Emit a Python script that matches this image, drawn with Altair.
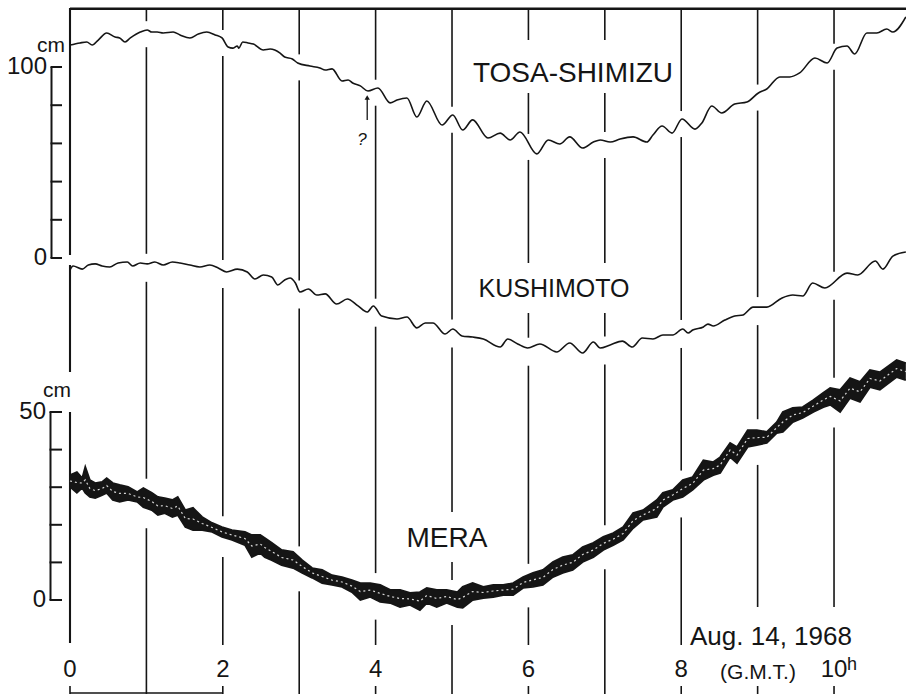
import altair as alt
import numpy as np
import pandas as pd

# ---------------- data (hours GMT, water level in cm) ----------------
tosa_hours = [0.00, 0.13, 0.22, 0.29, 0.37, 0.48, 0.59, 0.65, 0.72, 0.79, 0.92, 1.01, 1.07, 1.14,
              1.22, 1.35, 1.44, 1.57, 1.68, 1.79, 1.90, 1.99, 2.07, 2.13, 2.19, 2.21, 2.26, 2.33,
              2.40, 2.53, 2.62, 2.68, 2.75, 2.81, 2.91, 2.98, 3.14, 3.27, 3.34, 3.43, 3.56, 3.64,
              3.70, 3.80, 3.90, 4.03, 4.19, 4.28, 4.41, 4.54, 4.67, 4.87, 5.01, 5.14, 5.27, 5.47,
              5.63, 5.76, 5.89, 6.11, 6.26, 6.41, 6.54, 6.71, 6.85, 6.94, 7.07, 7.20, 7.37, 7.55,
              7.63, 7.75, 7.88, 8.01, 8.18, 8.27, 8.40, 8.53, 8.70, 8.86, 9.01, 9.12, 9.29, 9.42,
              9.55, 9.75, 9.91, 10.04, 10.17, 10.27, 10.43, 10.56, 10.69, 10.77, 10.94]
tosa_cm = [111.5, 112.6, 113.1, 111.5, 114.1, 117.8, 115.7, 115.2, 113.1, 115.2, 118.3, 119.4, 118.3, 118.3,
           117.8, 118.3, 116.8, 115.2, 117.3, 118.3, 116.8, 115.2, 110.5, 109.9, 111.0, 109.9, 113.1, 112.6,
           112.0, 108.9, 109.4, 108.9, 107.3, 105.2, 104.2, 102.1, 100.5, 99.5, 98.4, 99.0, 92.7, 93.2,
           91.6, 90.1, 87.4, 89.0, 81.2, 82.7, 83.8, 73.8, 82.2, 69.6, 74.9, 67.0, 72.3, 62.8,
           65.4, 61.8, 66.0, 54.5, 61.8, 59.7, 63.4, 57.6, 60.7, 61.8, 60.7, 62.3, 63.4, 60.7,
           64.4, 69.1, 65.4, 72.8, 67.5, 70.7, 79.6, 75.9, 80.6, 81.7, 86.4, 88.5, 94.8, 94.8,
           96.9, 104.7, 102.1, 109.9, 111.0, 106.8, 117.8, 117.8, 119.9, 118.3, 126.2]

kushi_hours = [0.00, 0.04, 0.16, 0.24, 0.33, 0.42, 0.52, 0.63, 0.75, 0.82, 0.92, 1.01, 1.11, 1.22,
               1.34, 1.44, 1.57, 1.70, 1.83, 1.94, 2.05, 2.19, 2.32, 2.42, 2.53, 2.64, 2.72, 2.81,
               2.88, 2.95, 3.01, 3.12, 3.23, 3.34, 3.49, 3.63, 3.77, 3.89, 3.97, 4.08, 4.28, 4.41,
               4.54, 4.65, 4.75, 4.91, 5.01, 5.13, 5.27, 5.41, 5.63, 5.73, 5.86, 5.99, 6.15, 6.37,
               6.54, 6.71, 6.85, 6.94, 7.07, 7.23, 7.36, 7.49, 7.63, 7.76, 7.89, 8.02, 8.09, 8.15,
               8.29, 8.35, 8.42, 8.57, 8.70, 8.81, 8.94, 9.12, 9.32, 9.46, 9.59, 9.72, 9.88, 10.17,
               10.31, 10.54, 10.64, 10.77, 10.94]
kushi_cm = [-6.3, -4.2, -5.8, -3.7, -3.1, -4.2, -4.7, -2.6, -2.1, -4.2, -2.6, -3.1, -2.1, -3.7,
            -2.1, -2.6, -3.7, -4.7, -3.7, -5.2, -7.3, -5.8, -7.3, -11.0, -8.9, -9.9, -14.1, -11.5,
            -10.5, -13.1, -17.8, -16.2, -19.4, -18.8, -24.1, -21.5, -25.1, -28.3, -25.1, -30.4, -31.9, -30.9,
            -36.6, -34.0, -34.0, -39.8, -37.2, -40.8, -41.4, -42.4, -46.6, -42.4, -45.0, -47.1, -45.0, -49.2,
            -44.5, -49.7, -44.0, -47.1, -45.5, -43.5, -46.6, -41.9, -42.4, -40.3, -40.3, -37.2, -39.3, -37.7,
            -36.1, -34.6, -35.6, -32.5, -30.4, -29.8, -25.7, -25.7, -20.9, -19.4, -19.9, -13.1, -15.7, -7.9,
            -8.9, -1.6, -5.8, 1.0, 3.1]

mera_hours = [0.00, 0.09, 0.16, 0.20, 0.26, 0.33, 0.42, 0.48, 0.56, 0.65, 0.76, 0.88, 0.96, 1.07,
              1.15, 1.24, 1.34, 1.41, 1.51, 1.61, 1.73, 1.86, 1.99, 2.12, 2.29, 2.38, 2.49, 2.55,
              2.64, 2.77, 2.92, 3.04, 3.17, 3.30, 3.43, 3.56, 3.69, 3.80, 3.93, 4.06, 4.19, 4.32,
              4.45, 4.58, 4.67, 4.80, 4.93, 5.07, 5.14, 5.27, 5.41, 5.54, 5.67, 5.80, 5.93, 6.06,
              6.19, 6.32, 6.45, 6.58, 6.71, 6.85, 6.98, 7.11, 7.24, 7.37, 7.50, 7.68, 7.76, 7.89,
              8.02, 8.15, 8.29, 8.42, 8.51, 8.64, 8.73, 8.87, 8.99, 9.12, 9.25, 9.33, 9.46, 9.59,
              9.73, 9.86, 9.95, 10.08, 10.21, 10.34, 10.47, 10.60, 10.82, 10.94]
mera_upper = [33.2, 34.0, 32.4, 35.4, 31.9, 31.1, 31.4, 32.4, 31.1, 30.6, 30.1, 28.7, 29.8, 28.5,
              27.4, 27.1, 26.6, 27.4, 23.9, 24.5, 22.1, 20.5, 19.4, 18.6, 18.1, 17.3, 17.3, 16.5,
              15.2, 13.3, 12.8, 10.6, 8.5, 8.0, 6.6, 6.1, 5.3, 4.5, 4.5, 4.0, 2.7, 2.7,
              1.9, 2.1, 3.2, 2.7, 2.7, 2.1, 3.5, 4.5, 3.5, 4.0, 4.0, 4.5, 6.1, 7.2,
              8.0, 10.1, 11.4, 12.0, 14.1, 15.2, 16.8, 17.8, 19.4, 23.1, 23.9, 26.6, 28.5, 29.3,
              31.9, 32.7, 37.2, 36.7, 38.0, 41.8, 40.7, 45.2, 45.2, 44.7, 47.3, 50.0, 51.1, 51.3,
              53.2, 55.1, 56.4, 55.9, 59.0, 58.0, 61.2, 60.6, 63.8, 63.0]
mera_lower = [30.1, 28.5, 29.8, 28.5, 27.4, 27.1, 27.9, 28.5, 26.6, 26.1, 26.6, 26.1, 24.7, 23.9,
              22.6, 23.1, 22.1, 22.6, 19.4, 18.6, 18.6, 18.1, 16.8, 16.0, 14.6, 11.4, 12.5, 11.4,
              10.6, 9.3, 8.5, 7.2, 5.9, 4.5, 4.0, 3.5, 2.1, 0.0, 0.8, -0.5, -0.8, -1.9,
              -1.3, -2.7, -0.8, -1.9, -0.8, -1.9, -2.1, 0.0, 0.5, 0.8, 1.3, 1.3, 3.2, 3.5,
              4.0, 6.1, 7.2, 8.0, 10.1, 11.4, 13.3, 14.6, 16.0, 19.1, 21.3, 22.1, 24.7, 26.6,
              27.4, 29.3, 31.9, 33.2, 33.8, 38.0, 36.4, 40.7, 41.2, 41.8, 44.4, 44.7, 47.3, 48.4,
              50.0, 51.3, 51.9, 50.0, 53.7, 52.7, 56.6, 55.9, 59.3, 58.5]

station_names = ["TOSA-SHIMIZU", "KUSHIMOTO", "MERA"]
tosa_ticks = [0, 20, 40, 60, 80, 100]
tosa_tick_labels = ["0", "100"]
tosa_label_values = [0, 100]
mera_ticks = [0, 10, 20, 30, 40, 50]
mera_tick_labels = ["0", "50"]
mera_label_values = [0, 50]
hour_lines = list(range(11))
bottom_tick_hours = [0, 2, 4, 6, 8, 9, 10]
hour_label_values = [0, 2, 4, 6, 8, 10]
hour_labels = ["0", "2", "4", "6", "8", "10"]
date_text = "Aug. 14, 1968"
zone_text = "(G.M.T.)"
arrow_hour = [3.89]
arrow_from = [72.3]
arrow_to = [84.0]

# ---------------- layout / style ----------------
W, H = 836, 686
INK = "#151515"
FONT = "Liberation Sans"
XMAX = 10.942
TOP_DOM = [-228.27, 130.89]
MERA_DOM = [-25.0, 157.45]
xs = alt.Scale(domain=[0, XMAX], nice=False, zero=False)
ys_top = alt.Scale(domain=TOP_DOM, nice=False, zero=False)
ys_mera = alt.Scale(domain=MERA_DOM, nice=False, zero=False)


def px_top(v):
    return (TOP_DOM[1] - v) / (TOP_DOM[1] - TOP_DOM[0]) * H


def top_from_px(p):
    return TOP_DOM[1] - p * (TOP_DOM[1] - TOP_DOM[0]) / H


def px_mera(v):
    return (MERA_DOM[1] - v) / (MERA_DOM[1] - MERA_DOM[0]) * H


PX_PER_HOUR = W / XMAX
line_end = {0: 635, 1: H, 2: 637, 3: H, 4: 637, 5: H, 6: 637, 7: H, 8: 637, 9: 599, 10: 599}
label_boxes = [(400, 605, 32, 85), (402, 566, 255, 305), (334, 420, 504, 554)]
extra_gaps = {0: [(247, 257), (364, 404)]}

# hour-line segments (long format: two rows per segment), interrupted where
# the records and the station names cross them
rows_seg, rows_h, rows_y, rows_k, rows_w = [], [], [], [], []


def add_segment(h, p0, p1, width):
    sid = len(rows_seg) // 2
    for k, p in enumerate((p0, p1)):
        rows_seg.append(sid); rows_h.append(h); rows_y.append(top_from_px(p)); rows_k.append(k)
        rows_w.append(width)


for h in hour_lines:
    gaps = list(extra_gaps.get(h, []))
    if h > 0:
        t = px_top(np.interp(h, tosa_hours, tosa_cm))
        k = px_top(np.interp(h, kushi_hours, kushi_cm))
        mu = px_mera(np.interp(h, mera_hours, mera_upper))
        ml = px_mera(np.interp(h, mera_hours, mera_lower))
        gaps += [(t - 9, t + 17), (k - 10, k + 18), (mu - 11, ml + 20)]
        xpx = h * PX_PER_HOUR
        for x0, x1, y0, y1 in label_boxes:
            if x0 <= xpx <= x1:
                gaps.append((y0, y1))
    gaps.sort()
    wid = "thick" if h == 0 else "thin"
    cur, end = 0.0, line_end[h]
    for g0, g1 in gaps:
        b = min(g0, end)
        if b - cur > 1:
            add_segment(h, cur, b, wid)
        cur = max(cur, g1)
    if end - cur > 1:
        add_segment(h, cur, end, wid)

for h in bottom_tick_hours:
    add_segment(h, 678, 686, "thin")

seg_df = pd.DataFrame({"seg": rows_seg, "h": rows_h, "y": rows_y, "k": rows_k, "w": rows_w})


def X(field="h"):
    return alt.X(f"{field}:Q", scale=xs, axis=None)


tosa_df = pd.DataFrame({"h": tosa_hours, "cm": tosa_cm})
kushi_df = pd.DataFrame({"h": kushi_hours, "cm": kushi_cm})
mera_df = pd.DataFrame({"h": mera_hours, "up": mera_upper, "lo": mera_lower})

vlines = alt.Chart(seg_df).mark_line(color=INK, strokeCap="butt").encode(
    x=X(), y=alt.Y("y:Q", scale=ys_top, axis=None),
    detail="seg:N", order="k:Q",
    strokeWidth=alt.StrokeWidth("w:N", scale=alt.Scale(domain=["thin", "thick"], range=[1.6, 2.1]), legend=None))
bracket_df = pd.DataFrame({"h": [0, 2], "y": [top_from_px(685), top_from_px(685)]})
bracket = alt.Chart(bracket_df).mark_line(color=INK, strokeWidth=1.6).encode(
    x=X(), y=alt.Y("y:Q", scale=ys_top, axis=None))
top_df = pd.DataFrame({"h": [0, XMAX], "y": [top_from_px(0.8), top_from_px(0.8)]})
top_border = alt.Chart(top_df).mark_line(color=INK, strokeWidth=2.4).encode(
    x=X(), y=alt.Y("y:Q", scale=ys_top, axis=None))

Ytop = alt.Y("cm:Q", scale=ys_top, axis=None)
tosa_line = alt.Chart(tosa_df).mark_line(color=INK, strokeWidth=1.6, interpolate="monotone").encode(x=X(), y=Ytop)
kushi_line = alt.Chart(kushi_df).mark_line(color=INK, strokeWidth=1.6, interpolate="monotone").encode(x=X(), y=Ytop)

# TOSA axis (drawn manually, ticks pointing into the chart)
tosa_axis_line = alt.Chart(pd.DataFrame({"a": [0], "b": [100]})).mark_rule(color=INK, strokeWidth=2).encode(
    x=alt.value(-18.5), y=alt.Y("a:Q", scale=ys_top, axis=None), y2="b:Q")
tosa_axis_ticks = alt.Chart(pd.DataFrame({"v": tosa_ticks})).mark_rule(color=INK, strokeWidth=2).encode(
    x=alt.value(-19.5), x2=alt.value(-8), y=alt.Y("v:Q", scale=ys_top, axis=None))
tosa_axis_labels = alt.Chart(pd.DataFrame({"v": tosa_label_values, "t": tosa_tick_labels})).mark_text(
    font=FONT, fontSize=24, color=INK, align="right", baseline="middle").encode(
    x=alt.value(-23), y=alt.Y("v:Q", scale=ys_top, axis=None), text="t:N")
tosa_unit = alt.Chart(pd.DataFrame({"t": ["cm"]})).mark_text(
    font=FONT, fontSize=21, color=INK, align="left", baseline="alphabetic").encode(
    x=alt.value(-33), y=alt.value(44), text="t:N")

# arrow with question mark
arrow_df = pd.DataFrame({"h": arrow_hour, "a": arrow_from, "b": arrow_to})
arrow_stem = alt.Chart(arrow_df).mark_rule(color=INK, strokeWidth=1.3).encode(
    x=X(), y=alt.Y("a:Q", scale=ys_top, axis=None), y2="b:Q")
arrow_head = alt.Chart(arrow_df).mark_point(shape="triangle-up", filled=True, size=28, color=INK, opacity=1).encode(
    x=X(), y=alt.Y("b:Q", scale=ys_top, axis=None))
question = alt.Chart(pd.DataFrame({"t": ["?"]})).mark_text(
    font=FONT, fontSize=17, fontStyle="italic", color=INK, align="center").encode(
    x=alt.value(292), y=alt.value(132), text="t:N")


def station_label(name, x, y, size):
    return alt.Chart(pd.DataFrame({"t": [name]})).mark_text(
        font=FONT, fontSize=size, color=INK, align="center", baseline="alphabetic").encode(
        x=alt.value(x), y=alt.value(y), text="t:N")


tosa_lab = station_label(station_names[0], 503, 74, 28)
kushi_lab = station_label(station_names[1], 484, 289, 25)
mera_lab = station_label(station_names[2], 377, 539, 28)

# x labels
hour_lab = alt.Chart(pd.DataFrame({"h": hour_label_values, "t": hour_labels})).mark_text(
    font=FONT, fontSize=24, color=INK, align="center", baseline="alphabetic").encode(
    x=X(), y=alt.value(669), text="t:N")
h_sup = alt.Chart(pd.DataFrame({"t": ["h"]})).mark_text(
    font=FONT, fontSize=18, color=INK, align="left", baseline="alphabetic").encode(
    x=alt.value(777), y=alt.value(662), text="t:N")
zone = alt.Chart(pd.DataFrame({"t": [zone_text]})).mark_text(
    font=FONT, fontSize=21, color=INK, align="center", baseline="alphabetic").encode(
    x=alt.value(688), y=alt.value(671), text="t:N")
date = alt.Chart(pd.DataFrame({"t": [date_text]})).mark_text(
    font=FONT, fontSize=26, color=INK, align="left", baseline="alphabetic").encode(
    x=alt.value(620), y=alt.value(637), text="t:N")

top_group = alt.layer(
    vlines, bracket, top_border,
    tosa_line, kushi_line,
    tosa_axis_line, tosa_axis_ticks, tosa_axis_labels, tosa_unit,
    arrow_stem, arrow_head, question,
    tosa_lab, kushi_lab,
    hour_lab, h_sup, zone, date,
)

# MERA band
Yup = alt.Y("up:Q", scale=ys_mera, axis=None)
Ylo = alt.Y("lo:Q", scale=ys_mera, axis=None)
mera_band = alt.Chart(mera_df).mark_area(color=INK, opacity=1).encode(x=X(), y=Yup, y2="lo:Q")
mera_up = alt.Chart(mera_df).mark_line(color=INK, strokeWidth=1.8).encode(x=X(), y=Yup)
mera_lo = alt.Chart(mera_df).mark_line(color=INK, strokeWidth=1.8).encode(x=X(), y=Ylo)
mera_mid = alt.Chart(mera_df).transform_calculate(mid="(datum.up + datum.lo) / 2").mark_line(
    color="#d8d8d8", strokeWidth=1.2, strokeDash=[2, 3]).encode(
    x=X(), y=alt.Y("mid:Q", scale=ys_mera, axis=None))

mera_axis_line = alt.Chart(pd.DataFrame({"a": [0], "b": [50]})).mark_rule(color=INK, strokeWidth=2).encode(
    x=alt.value(-19.5), y=alt.Y("a:Q", scale=ys_mera, axis=None), y2="b:Q")
mera_axis_ticks = alt.Chart(pd.DataFrame({"v": mera_ticks})).mark_rule(color=INK, strokeWidth=2).encode(
    x=alt.value(-20.5), x2=alt.value(-8), y=alt.Y("v:Q", scale=ys_mera, axis=None))
mera_axis_labels = alt.Chart(pd.DataFrame({"v": mera_label_values, "t": mera_tick_labels})).mark_text(
    font=FONT, fontSize=24, color=INK, align="right", baseline="middle").encode(
    x=alt.value(-24), y=alt.Y("v:Q", scale=ys_mera, axis=None), text="t:N")
mera_unit = alt.Chart(pd.DataFrame({"t": ["cm"]})).mark_text(
    font=FONT, fontSize=21, color=INK, align="left", baseline="alphabetic").encode(
    x=alt.value(-27), y=alt.value(389), text="t:N")

mera_group = alt.layer(
    mera_band, mera_up, mera_lo, mera_mid,
    mera_axis_line, mera_axis_ticks, mera_axis_labels, mera_unit,
    mera_lab,
)

chart = alt.layer(top_group, mera_group).resolve_scale(y="independent").properties(
    width=W, height=H,
    padding={"left": 70, "top": 8, "right": 0, "bottom": 0},
    autosize="none",
    background="white",
).configure_view(stroke=None)

chart.save("out.html", embed_options={"renderer": "svg", "actions": False})
